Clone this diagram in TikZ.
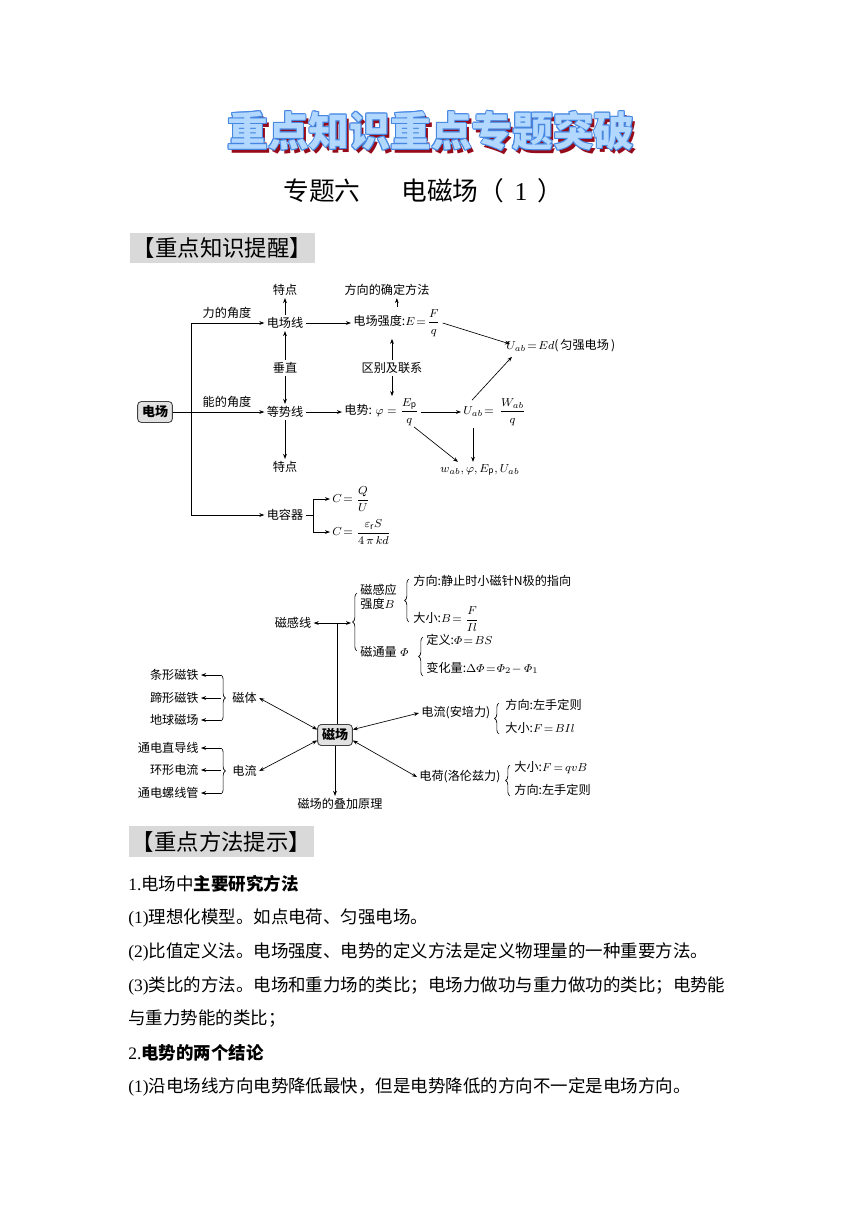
\documentclass[tikz,border=0pt]{standalone}
\usepackage{amsmath}
\usepackage{fontspec}
\setmainfont{Noto Sans CJK SC}
\newfontfamily\tnr{Liberation Serif}
\usetikzlibrary{arrows.meta,positioning,calc,decorations.pathreplacing}
\definecolor{ttlred}{RGB}{150,10,25}
\definecolor{ttlline}{RGB}{70,135,225}
\definecolor{ttlfill}{RGB}{178,216,255}
\definecolor{hdgray}{RGB}{217,217,217}
\definecolor{boxgray}{RGB}{226,226,226}
\newcommand{\ttltext}{重点知识重点专题突破}

\begin{document}
\begin{tikzpicture}[x=0.6923pt,y=-0.6923pt,every node/.style={inner sep=1.5pt},
    dg/.style={font=\fontsize{8.4}{10.5}\selectfont},
    fbox/.style={draw=black!75,rounded corners=2.5pt,fill=boxgray,line width=0.6pt,
      font=\fontsize{9}{10}\selectfont\bfseries,inner sep=3pt},
    arr/.style={-{Stealth[length=3.5pt,width=2.6pt]},line width=0.45pt},
    darr/.style={{Stealth[length=3.5pt,width=2.6pt]}-{Stealth[length=3.5pt,width=2.6pt]},line width=0.45pt},
    brc/.style={decorate,decoration={brace,amplitude=3pt},line width=0.45pt},
    ttl/.style={font=\fontsize{28.2}{30}\selectfont\bfseries,inner sep=0pt},
    hd/.style={fill=hdgray,font=\fontsize{15.5}{18}\selectfont,minimum width=128pt,minimum height=20.8pt,inner sep=0pt},
    bt/.style={anchor=west,font=\fontsize{12.1}{14}\selectfont,inner sep=0pt}]
  \useasboundingbox (0,0) rectangle (860,1216);
  % Title
  \coordinate (tc) at (431,131);
  \node[ttl,text=ttlred] (ttls) at ($(tc)+(3,4)$) {\ttltext};
  \foreach \dx/\dy [count=\i] in {-1/0,1/0,0/-1,0/1,-0.7/-0.7,0.7/0.7,-0.7/0.7,0.7/-0.7}
    \node[ttl,text=ttlline] (ttlo\i) at ($(tc)+(\dx,\dy)$) {\ttltext};
  \node[ttl,text=ttlfill] (ttl) at (tc) {\ttltext};
  \node[font=\fontsize{17.8}{20}\selectfont,inner sep=0pt,anchor=west] (sub) at (283,191)
    {专题六\hspace{1.6em}电磁场（\hspace{0.4em}{\tnr 1}\hspace{0.4em}）};
  \node[hd] (hd1) at (222.5,248) {【重点知识提醒】};

  % Electric field map
  \node[fbox] (ef) at (155,412) {电场};
  \node[dg] (tdA) at (285,290) {特点};
  \node[dg] (lines) at (285,323) {电场线};
  \node[dg] (perp) at (285,368) {垂直};
  \node[dg] (equi) at (285,412) {等势线};
  \node[dg] (tdB) at (285,467) {特点};
  \node[dg] (cap) at (285,515) {电容器};
  \node[dg] (force) at (227,313) {力的角度};
  \node[dg] (energy) at (227,402) {能的角度};
  \node[dg] (fdir) at (387,290) {方向的确定方法};
  \node[dg,anchor=west] (estr) at (351,323) {电场强度:$E\!=\!\dfrac{F}{q}$};
  \node[dg] (rel) at (392,368) {区别及联系};
  \node[dg,anchor=west] (pot) at (342,412) {电势: $\varphi=\dfrac{E_{\mathrm p}}{q}$};
  \node[dg,anchor=west] (uab) at (461,412) {$U_{ab}\!=\,\dfrac{W_{ab}}{q}$};
  \node[dg,anchor=west] (ued) at (504,346) {$U_{ab}\!=\!Ed$(\,匀强电场\,)};
  \node[dg] (wab) at (480,470) {$w_{ab},\varphi,E_{\mathrm p},U_{ab}$};
  \node[dg,anchor=west] (c1) at (330,499) {$C\!=\dfrac{Q}{U}$};
  \node[dg,anchor=west] (c2) at (330,532) {$C\!=\dfrac{\varepsilon_{\mathrm r}S}{4\,\pi\,kd}$};
  \coordinate (jt) at (191,323);
  \coordinate (jb) at (191,515);
  \coordinate (cb) at ($(cap.east)+(8,0)$);
  \draw[line width=0.45pt] (jt) -- (jb);
  \foreach \a/\b in {jt/lines,ef/equi,jb/cap,lines/estr,equi/pot,pot/uab}
    \draw[arr] (\a) -- (\b);
  \draw[arr] (lines) -- (tdA);
  \draw[arr] (perp) -- (lines);
  \draw[arr] (perp) -- (equi);
  \draw[arr] (equi) -- (tdB);
  \draw[arr] (estr.north) -- (estr.north |- fdir.south);
  \draw[arr] (rel) -- (rel |- estr.south);
  \draw[arr] (rel) -- (rel |- pot.north);
  \draw[arr] (estr.east) -- ($(ued.west)+(6,-2)$);
  \draw[arr] ($(uab.north west)+(11,4)$) -- ($(ued.south west)+(8,2)$);
  \draw[arr] ($(uab.south west)+(12,0)$) coordinate (ud) -- (ud |- wab.north);
  \draw[arr] ($(pot.south east)+(-7,-1)$) -- ($(wab.north west)+(20,0)$);
  \draw[line width=0.45pt] (cap.east) -- (cb);
  \draw[arr] (cb) |- (c1.west);
  \draw[arr] (cb) |- (c2.west);

  % Magnetic field map
  \node[fbox] (mag) at (335,735) {磁场};
  \node[dg] (mline) at (293,623) {磁感线};
  \node[dg,anchor=west,align=left] (bfield) at (358,597) {磁感应\\[-1pt]强度$B$};
  \node[dg,anchor=west] (flux) at (358,652) {磁通量$\;\varPhi$};
  \node[dg,anchor=west] (bdir) at (411,581) {方向:静止时小磁针N极的指向};
  \node[dg,anchor=west] (bmag) at (411,619) {大小:$B\!=\dfrac{F}{Il}$};
  \node[dg,anchor=west] (fdef) at (424,640) {定义:$\varPhi\!=\!BS$};
  \node[dg,anchor=west] (fchg) at (424,668) {变化量:$\Delta\varPhi\!=\!\varPhi_2\!-\varPhi_1$};
  \node[dg,anchor=east] (bar) at (201,675) {条形磁铁};
  \node[dg,anchor=east] (hoof) at (201,698) {蹄形磁铁};
  \node[dg,anchor=east] (earth) at (201,720) {地球磁场};
  \node[dg,anchor=west] (magnet) at (230,698) {磁体};
  \node[dg,anchor=east] (wire) at (201,748) {通电直导线};
  \node[dg,anchor=east] (loop) at (201,770) {环形电流};
  \node[dg,anchor=east] (sol) at (201,793) {通电螺线管};
  \node[dg,anchor=west] (curr) at (230,771) {电流};
  \node[dg] (sup) at (340,804) {磁场的叠加原理};
  \node[dg,anchor=west] (amp) at (419,713) {电流(安培力)};
  \node[dg,anchor=west] (adir) at (503,705) {方向:左手定则};
  \node[dg,anchor=west] (amag) at (503,728) {大小:$F\!=\!BIl$};
  \node[dg,anchor=west] (lor) at (417,777) {电荷(洛伦兹力)};
  \node[dg,anchor=west] (lmag) at (512,768) {大小:$F\,{=}\,qvB$};
  \node[dg,anchor=west] (ldir) at (512,790) {方向:左手定则};
  \coordinate (b1tip) at (351,623);
  % Braces
  \draw[brc] (357,651) -- (357,593);
  \draw[brc] (409,622) -- (409,579);
  \draw[brc] (423,676) -- (423,637);
  \draw[brc] (499,734) -- (499,703);
  \draw[brc] (510,796) -- (510,765);
  \draw[brc] (221,675) -- (221,721);
  \draw[brc] (221,748) -- (221,794);
  \draw[darr] (mline.east) -- (b1tip);
  \draw[line width=0.45pt] (mag.north -| 337,0) -- (337,623);
  \foreach \n in {bar,hoof,earth,wire,loop,sol}
    \draw[arr] ($(\n.east)+(20,0)$) -- (\n.east);
  \draw[darr] (magnet.east) -- (mag.163);
  \draw[darr] (curr.east) -- (mag.197);
  \draw[darr] (mag.17) -- (amp.west);
  \draw[darr] (mag.-17) -- (lor.west);
  \draw[arr] (mag.south) -- (mag.south |- sup.north);

  % Methods
  \node[hd] (hd2) at (221.5,841.5) {【重点方法提示】};
  \node[bt] (m1) at (128,884) {{\tnr 1.}电场中\textbf{主要研究方法}};
  \node[bt] (m2) at (128,918) {{\tnr (1)}理想化模型。如点电荷、匀强电场。};
  \node[bt] (m3) at (128,952) {{\tnr (2)}比值定义法。电场强度、电势的定义方法是定义物理量的一种重要方法。};
  \node[bt] (m4) at (128,986) {{\tnr (3)}类比的方法。电场和重力场的类比；电场力做功与重力做功的类比；电势能};
  \node[bt] (m5) at (128,1019) {与重力势能的类比；};
  \node[bt] (m6) at (128,1053) {{\tnr 2.}\textbf{电势的两个结论}};
  \node[bt] (m7) at (128,1087) {{\tnr (1)}沿电场线方向电势降低最快，但是电势降低的方向不一定是电场方向。};
\end{tikzpicture}
\end{document}
